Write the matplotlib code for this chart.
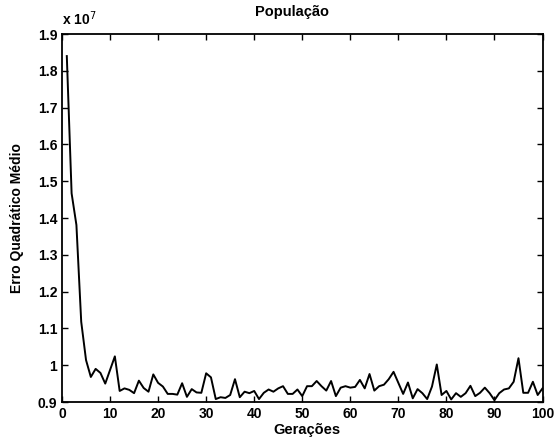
import matplotlib
matplotlib.use("Agg")
import matplotlib.pyplot as plt
from matplotlib.ticker import FuncFormatter, MultipleLocator

plt.rcParams['font.family'] = ['Liberation Sans', 'DejaVu Sans']

generations = list(range(1, 101))
mse_e7 = [
    1.840, 1.467, 1.381, 1.118, 1.014, 0.968, 0.990, 0.979, 0.950, 0.987,
    1.024, 0.930, 0.937, 0.933, 0.924, 0.958, 0.938, 0.928, 0.975, 0.952,
    0.942, 0.922, 0.922, 0.920, 0.951, 0.914, 0.935, 0.926, 0.925, 0.978,
    0.967, 0.908, 0.913, 0.911, 0.919, 0.962, 0.913, 0.928, 0.924, 0.930,
    0.908, 0.925, 0.934, 0.928, 0.937, 0.943, 0.922, 0.922, 0.934, 0.916,
    0.943, 0.943, 0.957, 0.943, 0.931, 0.957, 0.916, 0.939, 0.943, 0.939,
    0.941, 0.960, 0.937, 0.976, 0.931, 0.943, 0.947, 0.962, 0.982, 0.952,
    0.922, 0.953, 0.910, 0.935, 0.924, 0.908, 0.942, 1.002, 0.919, 0.930,
    0.907, 0.924, 0.914, 0.924, 0.944, 0.916, 0.925, 0.939, 0.924, 0.905,
    0.924, 0.934, 0.937, 0.955, 1.019, 0.925, 0.925, 0.955, 0.919, 0.937,
]
mse = [v * 1e7 for v in mse_e7]

title = "População"
xlabel = "Gerações"
ylabel = "Erro Quadrático Médio"

fig = plt.figure(figsize=(5.59, 4.40), dpi=100)
ax = fig.add_axes([62/559, 1-402/440, (542.5-62)/559, (402-34)/440])
ax.plot(generations, mse, color='black', lw=1.4)
ax.set_xlim(0, 100)
ax.set_ylim(0.9e7, 1.9e7)
ax.xaxis.set_major_locator(MultipleLocator(10))
ax.yaxis.set_major_locator(MultipleLocator(0.1e7))
ax.yaxis.set_major_formatter(FuncFormatter(lambda v, p: ("%g" % round(v/1e7, 1))))
ax.tick_params(direction='in', top=True, right=True, length=4, width=1,
               labelsize=10)
for lab in ax.get_xticklabels() + ax.get_yticklabels():
    lab.set_fontweight('bold')
for s in ax.spines.values():
    s.set_linewidth(1.3)

fig.text(292/559, 1-12/440, title, fontsize=10.5, fontweight='bold',
         ha='center', va='center')
fig.text(307/559, 1-430/440, xlabel, fontsize=10.5, fontweight='bold',
         ha='center', va='center')
ax.set_ylabel(ylabel, fontsize=10, fontweight='bold', labelpad=10)
fig.text(62/559, 1-19/440, "x 10$^{7}$", fontsize=10, fontweight='bold',
         ha='left', va='center')

fig.savefig("out.png", dpi=100, facecolor='white')
